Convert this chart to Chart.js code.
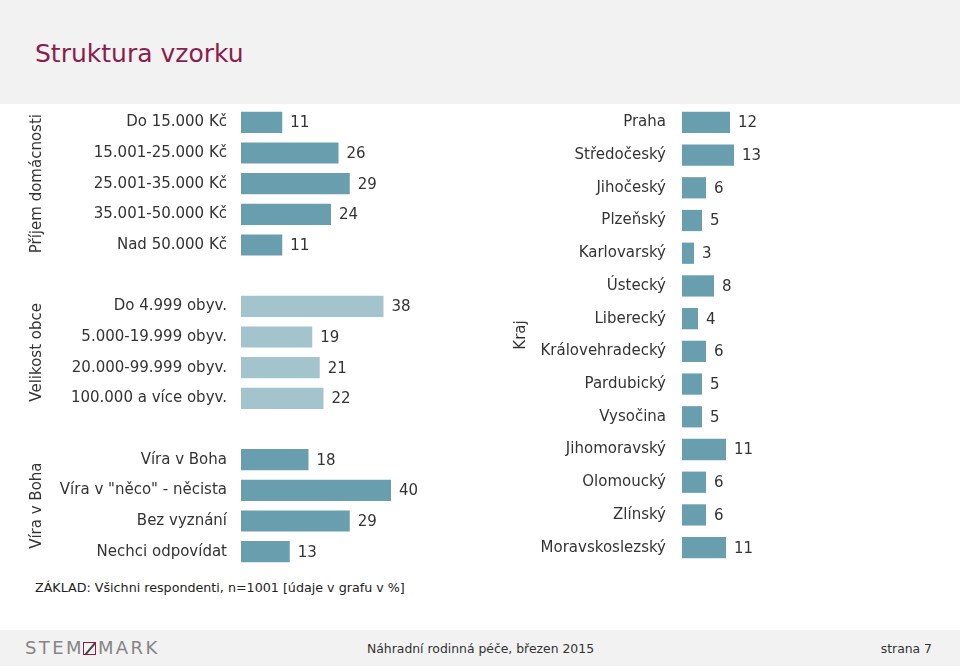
<!DOCTYPE html>
<html>
<head>
<meta charset="utf-8">
<script src="https://cdn.jsdelivr.net/npm/chart.js@4.4.1/dist/chart.umd.min.js"></script>
<style>
    html, body { margin: 0; padding: 0; }
    body { width: 960px; height: 666px; position: relative; background: #ffffff; overflow: hidden;
           font-family: 'DejaVu Sans', Verdana, sans-serif; color: #333333; }
    #header { position: absolute; left: 0; top: 0; width: 960px; height: 104px; background: #f2f2f2; }
    #title { position: absolute; left: 35px; top: 39px; font-size: 25px; color: #8b1d4e; }
    #leftChart { position: absolute; left: 0; top: 107px; }
    #rightChart { position: absolute; left: 480px; top: 106px; }
    #base { position: absolute; left: 35px; top: 580px; font-size: 12.7px; color: #222222; }
    #footer { position: absolute; left: 0; top: 630px; width: 960px; height: 36px; background: #f2f2f2; }
    #logo { position: absolute; left: 25px; top: 7px; font-family: 'DejaVu Sans', sans-serif;
            font-size: 18px; color: #858585; letter-spacing: 2.4px; white-space: nowrap; }
    #logo .box { display: inline-block; width: 11px; height: 11px; border: 1.5px solid #8b1d4e;
                 vertical-align: -1px; position: relative; overflow: hidden; margin: 0 2px 0 -1px; }
    #logo .box:after { content: ''; position: absolute; left: -3px; top: 5px; width: 18px; height: 1.6px;
                       background: #444; transform: rotate(-50deg); }
    #foottext { position: absolute; left: 367px; top: 11px; font-size: 12.4px; color: #333333; }
    #page { position: absolute; right: 28px; top: 11px; font-size: 12.4px; color: #333333; }
</style>
</head>
<body>
<div id="header"><div id="title">Struktura vzorku</div></div>
<canvas id="leftChart" width="466" height="460"></canvas>
<canvas id="rightChart" width="442" height="458"></canvas>
<div id="base">ZÁKLAD: Všichni respondenti, n=1001 [údaje v grafu v %]</div>
<div id="footer">
    <div id="logo">STEM<span class="box"></span>MARK</div>
    <div id="foottext">Náhradní rodinná péče, březen 2015</div>
    <div id="page">strana 7</div>
</div>
<script>
    "use strict";

    var incomeLabels = ['Do 15.000 Kč', '15.001-25.000 Kč', '25.001-35.000 Kč', '35.001-50.000 Kč', 'Nad 50.000 Kč'];
    var incomeValues = [11, 26, 29, 24, 11];

    var sizeLabels = ['Do 4.999 obyv.', '5.000-19.999 obyv.', '20.000-99.999 obyv.', '100.000 a více obyv.'];
    var sizeValues = [38, 19, 21, 22];

    var faithLabels = ['Víra v Boha', 'Víra v "něco" - něcista', 'Bez vyznání', 'Nechci odpovídat'];
    var faithValues = [18, 40, 29, 13];

    var regionLabels = ['Praha', 'Středočeský', 'Jihočeský', 'Plzeňský', 'Karlovarský', 'Ústecký', 'Liberecký',
        'Královehradecký', 'Pardubický', 'Vysočina', 'Jihomoravský', 'Olomoucký', 'Zlínský', 'Moravskoslezský'];
    var regionValues = [12, 13, 6, 5, 3, 8, 4, 6, 5, 5, 11, 6, 6, 11];

    var DARK = '#689ead';
    var LIGHT = '#a4c4cd';
    var TEXT = '#333333';

    Chart.defaults.font.family = "'DejaVu Sans', Verdana, sans-serif";
    Chart.defaults.font.size = 15;
    Chart.defaults.color = TEXT;

    /*
     * Numbers at the end of the bars
     */
    var valueLabels = {
        id: 'valueLabels',
        afterDatasetsDraw: function (chart) {
            var ctx = chart.ctx;
            var meta = chart.getDatasetMeta(0);
            var data = chart.data.datasets[0].data;
            ctx.save();
            ctx.font = "15px 'DejaVu Sans', Verdana, sans-serif";
            ctx.fillStyle = TEXT;
            ctx.textAlign = 'left';
            ctx.textBaseline = 'middle';
            meta.data.forEach(function (bar, i) {
                if (data[i] === null) {
                    return;
                }
                ctx.fillText(String(data[i]), bar.x + 8, bar.y + 1);
            });
            ctx.restore();
        }
    };

    /*
     * Rotated group names left of the category labels
     */
    var groupTitles = {
        id: 'groupTitles',
        afterDraw: function (chart, args, opts) {
            var ctx = chart.ctx;
            var y = chart.scales.y;
            ctx.save();
            ctx.font = "15px 'DejaVu Sans', Verdana, sans-serif";
            ctx.fillStyle = TEXT;
            ctx.textAlign = 'center';
            ctx.textBaseline = 'middle';
            (opts.items || []).forEach(function (g) {
                var mid = (y.getPixelForValue(g.from) + y.getPixelForValue(g.to)) / 2;
                ctx.save();
                ctx.translate(opts.x, mid);
                ctx.rotate(-Math.PI / 2);
                ctx.fillText(g.text, 0, 0);
                ctx.restore();
            });
            ctx.restore();
        }
    };

    function makeOptions(axisWidth, padding, max, thickness, groups) {
        return {
            indexAxis: 'y',
            responsive: false,
            animation: false,
            layout: { padding: 0 },
            plugins: {
                legend: { display: false },
                tooltip: { enabled: false },
                groupTitles: groups
            },
            scales: {
                x: { display: false, min: 0, max: max },
                y: {
                    grid: { display: false, drawTicks: false },
                    border: { display: false },
                    ticks: { padding: padding, color: TEXT, autoSkip: false },
                    afterFit: function (scale) {
                        // fixed label column, rows use the full height
                        scale.width = axisWidth;
                        scale.paddingTop = 0;
                        scale.paddingBottom = 0;
                    }
                }
            },
            datasets: { bar: { categoryPercentage: 1, barPercentage: thickness } }
        };
    }

    // left chart: three groups with an empty row between them
    var leftLabels = incomeLabels.concat([''], sizeLabels, [''], faithLabels);
    var leftValues = incomeValues.concat([null], sizeValues, [null], faithValues);
    var leftColors = incomeValues.map(function () { return DARK; })
        .concat([DARK], sizeValues.map(function () { return LIGHT; }), [DARK],
            faithValues.map(function () { return DARK; }));

    var s1 = incomeLabels.length;
    var s2 = s1 + 1 + sizeLabels.length;

    new Chart(document.getElementById('leftChart'), {
        type: 'bar',
        data: {
            labels: leftLabels,
            datasets: [{ data: leftValues, backgroundColor: leftColors, borderWidth: 0 }]
        },
        options: makeOptions(241, 14, 60, 0.69, {
            x: 37,
            items: [
                { text: 'Příjem domácnosti', from: 0, to: s1 - 1 },
                { text: 'Velikost obce', from: s1 + 1, to: s2 - 1 },
                { text: 'Víra v Boha', from: s2 + 1, to: leftLabels.length - 1 }
            ]
        }),
        plugins: [valueLabels, groupTitles]
    });

    new Chart(document.getElementById('rightChart'), {
        type: 'bar',
        data: {
            labels: regionLabels,
            datasets: [{ data: regionValues, backgroundColor: DARK, borderWidth: 0 }]
        },
        options: makeOptions(202, 16, 60, 0.65, {
            x: 41,
            items: [{ text: 'Kraj', from: 0, to: regionLabels.length - 1 }]
        }),
        plugins: [valueLabels, groupTitles]
    });
</script>
</body>
</html>
